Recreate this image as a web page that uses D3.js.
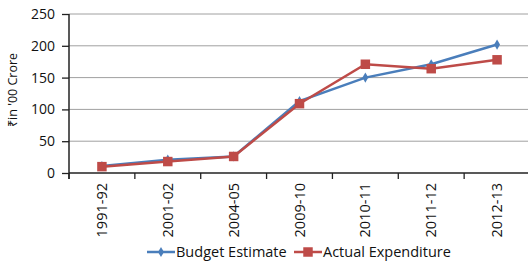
<!DOCTYPE html>
<html>
<head>
<meta charset="utf-8">
<script src="https://cdn.jsdelivr.net/npm/d3@7"></script>
<style>
  body { margin: 0; background: #fff; }
  text { font-family: "Open Sans", "Noto Sans", sans-serif; fill: #111; }
</style>
</head>
<body>
<div id="chart"></div>
<script>
const years = ['1991-92', '2001-02', '2004-05', '2009-10', '2010-11', '2011-12', '2012-13'];
const budgetEstimate = [11, 21, 26, 113, 150, 171, 202];
const actualExpenditure = [10, 18, 26, 109, 171, 164, 178];
const yTicks = [0, 50, 100, 150, 200, 250];

const W = 528, H = 264;
const margin = {top: 14, right: 0, bottom: 91, left: 69};
const width = 461, height = H - margin.top - margin.bottom;

const svg = d3.select('#chart').append('svg')
  .attr('width', W).attr('height', H);

const g = svg.append('g')
  .attr('transform', 'translate(' + margin.left + ',' + margin.top + ')');

const x = d3.scaleBand().domain(years).range([0, width]);
const y = d3.scaleLinear().domain([0, 250]).range([height, 0]);

// gridlines
g.append('g').selectAll('line')
  .data(yTicks.filter(d => d > 0))
  .join('line')
  .attr('x1', 0).attr('x2', W)
  .attr('y1', d => y(d)).attr('y2', d => y(d))
  .attr('stroke', '#a0a0a0').attr('stroke-width', 1);

// y axis
const yAxis = g.append('g')
  .call(d3.axisLeft(y).tickValues(yTicks).tickSize(7).tickSizeOuter(0).tickPadding(7));
yAxis.select('.domain').remove();
yAxis.selectAll('.tick line').attr('stroke', '#222').attr('stroke-width', 1.3);
yAxis.selectAll('text').style('font-size', '14px').attr('fill', '#111');
g.append('line')
  .attr('x1', 0).attr('x2', 0).attr('y1', 0).attr('y2', height + 6)
  .attr('stroke', '#222').attr('stroke-width', 1.5);

// x axis: ticks at category boundaries
const xAxis = g.append('g').attr('transform', 'translate(0,' + height + ')');
xAxis.append('line')
  .attr('x1', 0).attr('x2', W).attr('stroke', '#222').attr('stroke-width', 1.5);
xAxis.selectAll('.bound')
  .data(years)
  .join('line')
  .attr('class', 'bound')
  .attr('x1', d => x(d)).attr('x2', d => x(d))
  .attr('y1', 0).attr('y2', 6)
  .attr('stroke', '#222').attr('stroke-width', 1.3);
xAxis.selectAll('.lbl')
  .data(years)
  .join('text')
  .attr('class', 'lbl')
  .attr('transform', d => 'translate(' + (x(d) + x.bandwidth() / 2 + 5) + ',10) rotate(-90)')
  .attr('text-anchor', 'end')
  .style('font-size', '14.5px')
  .text(d => d);

// y label
svg.append('text')
  .attr('transform', 'translate(17,' + 90 + ') rotate(-90)')
  .attr('text-anchor', 'middle')
  .style('font-size', '12.5px')
  .text("₹in '00 Crore");

const cx = d => x(d) + x.bandwidth() / 2;
const series = [
  {name: 'Budget Estimate', values: budgetEstimate, color: '#4a7ebb', shape: d3.symbolDiamond, size: 30},
  {name: 'Actual Expenditure', values: actualExpenditure, color: '#be4b48', shape: d3.symbolSquare, size: 90}
];

const line = d3.line()
  .x((d, i) => cx(years[i]))
  .y(d => y(d));

series.forEach(s => {
  g.append('path')
    .datum(s.values)
    .attr('fill', 'none')
    .attr('stroke', s.color)
    .attr('stroke-width', 2.5)
    .attr('d', line);
  g.selectAll(null)
    .data(s.values)
    .join('path')
    .attr('transform', (d, i) => 'translate(' + cx(years[i]) + ',' + y(d) + ')')
    .attr('d', d3.symbol().type(s.shape).size(s.size))
    .attr('fill', s.color);
});

// legend
const legendItems = [
  {x: 147, s: series[0]},
  {x: 294, s: series[1]}
];
const lg = svg.append('g').attr('transform', 'translate(0,252)');
legendItems.forEach(it => {
  lg.append('line')
    .attr('x1', it.x).attr('x2', it.x + 28)
    .attr('stroke', it.s.color).attr('stroke-width', 2.5);
  lg.append('path')
    .attr('transform', 'translate(' + (it.x + 14) + ',0)')
    .attr('d', d3.symbol().type(it.s.shape).size(it.s.size))
    .attr('fill', it.s.color);
  lg.append('text')
    .attr('x', it.x + 29).attr('y', 5)
    .style('font-size', '14.5px')
    .text(it.s.name);
});
</script>
</body>
</html>
